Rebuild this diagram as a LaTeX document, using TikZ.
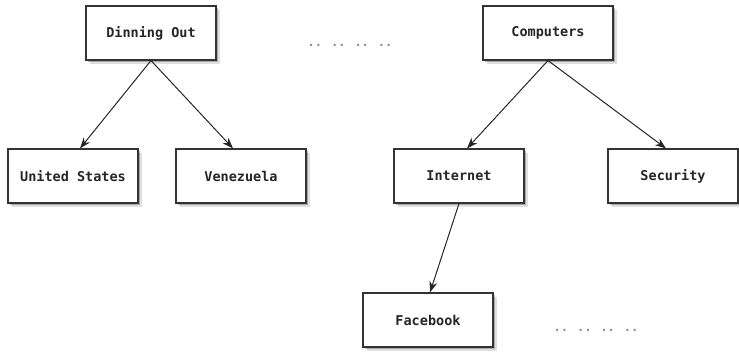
\documentclass[tikz,border=0pt]{standalone}
\usepackage{fontspec}
\setmonofont{DejaVu Sans Mono}
\usetikzlibrary{arrows.meta,shadows}
\begin{document}
\begin{tikzpicture}[x=1pt,y=-1pt,
  box/.style={draw=black!80, line width=1.1pt, fill=white, minimum width=130pt, minimum height=54pt,
    inner sep=0pt, font=\ttfamily\bfseries\fontsize{13.5pt}{15pt}\selectfont, text=black!85,
    drop shadow={shadow xshift=3.5pt, shadow yshift=-4.5pt, fill=black!50, opacity=0.25},
    drop shadow={shadow xshift=2pt, shadow yshift=-2.5pt, fill=black!60, opacity=0.45}},
  link/.style={draw=black!85, line width=1pt, -{Stealth[length=11pt,width=8pt]}},
  dots/.style={text=black!45, font=\ttfamily\bfseries\fontsize{12pt}{14pt}\selectfont}]
\useasboundingbox (0,0) rectangle (739,352);
\node[box] (dine) at (151,33) {Dinning Out};
\node[box] (us) at (73,176) {United States};
\node[box] (ven) at (241,176) {Venezuela};
\node[box] (comp) at (548,33) {Computers};
\node[box] (inet) at (459,176) {Internet};
\node[box] (sec) at (673,176) {Security};
\node[box] (fb) at (428,320) {Facebook};
\node[dots] (d1) at (350,45) {..\hspace{9pt}..\hspace{9pt}..\hspace{9pt}..};
\node[dots] (d2) at (596,330) {..\hspace{9pt}..\hspace{9pt}..\hspace{9pt}..};
\draw[link] (dine.south) -- ([xshift=7pt]us.north);
\draw[link] (dine.south) -- ([xshift=-8pt]ven.north);
\draw[link] (comp.south) -- ([xshift=8pt]inet.north);
\draw[link] (comp.south) -- ([xshift=-7pt]sec.north);
\draw[link] (inet.south) -- ([xshift=2pt]fb.north);
\end{tikzpicture}
\end{document}
